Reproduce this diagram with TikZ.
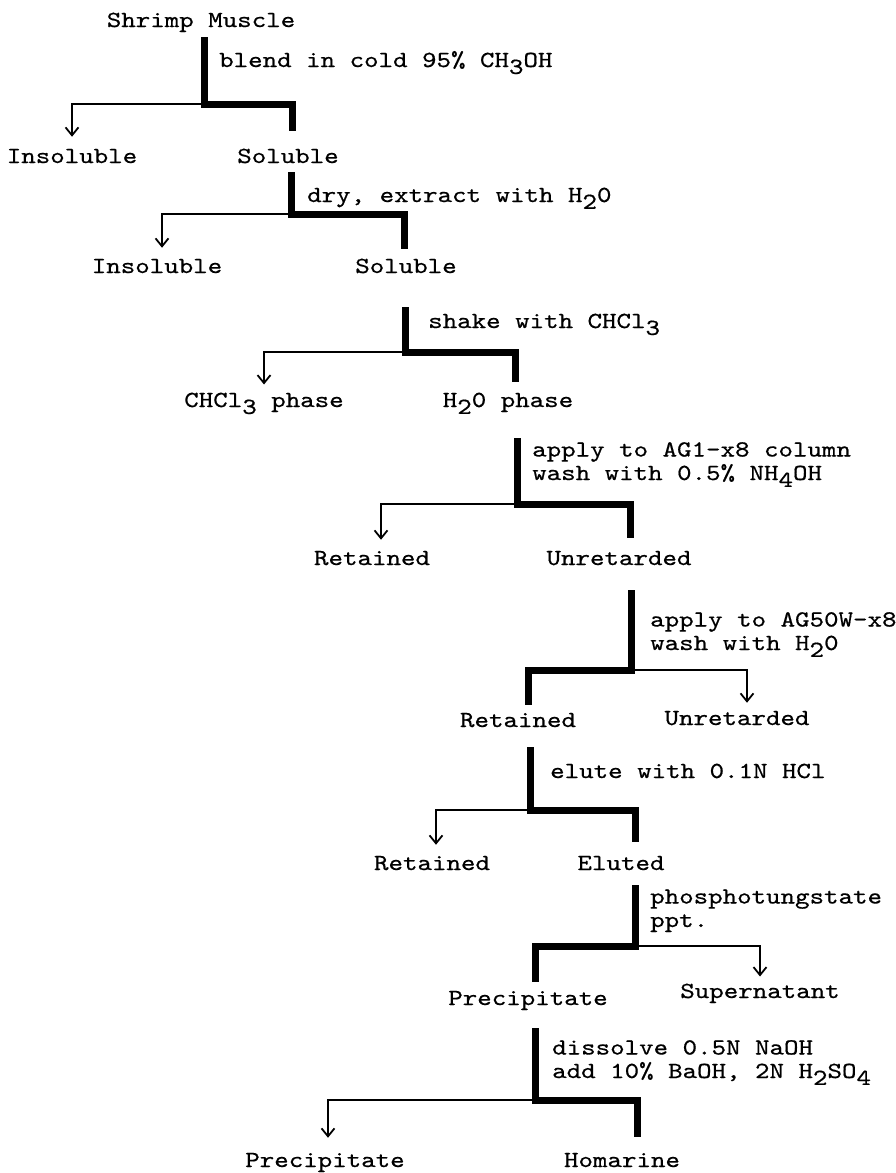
\documentclass[tikz,border=0pt]{standalone}
\usepackage{fontspec}
\newfontfamily\typer{lmmono10-regular.otf}[FakeStretch=1.2,FakeBold=0.6]
\usetikzlibrary{arrows.meta}
\newcommand{\lowr}[1]{\raisebox{-0.3em}{#1}}
\pgfmathsetmacro{\stemWidth}{7}
\pgfmathsetmacro{\sideWidth}{1.8}

\begin{document}
\begin{tikzpicture}[x=1pt,y=-1pt,
    every node/.style={inner sep=0pt,
        font=\typer\fontsize{23}{23.5}\selectfont},
    fraction/.style={anchor=base},
    treatment/.style={anchor=base west, align=left},
    keep/.style={line width=\stemWidth pt},
    drop/.style={line width=\sideWidth pt,
        -{Straight Barb[length=8pt,width=13pt]}}]

\useasboundingbox (0,0) rectangle (896,1173);

% fractions
\node[fraction](shrimp) at (201,27){Shrimp Muscle};
\node[fraction](insol1) at (72,163){Insoluble};
\node[fraction](sol1) at (288,163){Soluble};
\node[fraction](insol2) at (157,273){Insoluble};
\node[fraction](sol2) at (406,273){Soluble};
\node[fraction](chcl) at (264,407){CHCl\lowr{3} phase};
\node[fraction](water) at (508,407){H\lowr{2}0 phase};
\node[fraction](ret1) at (372,565){Retained};
\node[fraction](unret1) at (619,565){Unretarded};
\node[fraction](ret2) at (518,727){Retained};
\node[fraction](unret2) at (737,725){Unretarded};
\node[fraction](ret3) at (432,870){Retained};
\node[fraction](elut) at (621,870){Eluted};
\node[fraction](ppt1) at (528,1005){Precipitate};
\node[fraction](super) at (760,998){Supernatant};
\node[fraction](ppt2) at (325,1167){Precipitate};
\node[fraction](homarine) at (622,1167){Homarine};

% treatments (base = last line)
\node[treatment](blend) at (219,67){blend in cold 95\% CH\lowr{3}OH};
\node[treatment](dry) at (307,202){dry, extract with H\lowr{2}0};
\node[treatment](shake) at (428,328){shake with CHCl\lowr{3}};
\node[treatment](col1) at (532,480){apply to AG1-x8 column\\
    wash with 0.5\% NH\lowr{4}OH};
\node[treatment](col2) at (650,650){apply to AG50W-x8\\
    wash with H\lowr{2}0};
\node[treatment](elute) at (550,778){elute with 0.1N HCl};
\node[treatment](pta) at (650,927){phosphotungstate\\ppt.};
\node[treatment](diss) at (552,1078){dissolve 0.5N NaOH\\
    add 10\% BaOH, 2N H\lowr{2}SO\lowr{4}};

% junctions
\coordinate(j1) at (204,104);
\coordinate(j2) at (291,214);
\coordinate(j3) at (405,352);
\coordinate(j4) at (517,504);
\coordinate(j5) at (631,670);
\coordinate(j6) at (530,810);
\coordinate(j7) at (635,946);
\coordinate(j8) at (535,1100);

% step 1
\draw[drop,shorten >=12pt](j1) -| (insol1.north);
\draw[keep,shorten <=5pt,shorten >=17pt](shrimp.south -| j1) --
    (j1) -| ([xshift=4pt]sol1.north);

% step 2
\draw[drop,shorten >=11pt](j2) -| ([xshift=5pt]insol2.north);
\draw[keep,shorten <=9pt,shorten >=9pt](sol1.south -| j2) --
    (j2) -| ([xshift=-2pt]sol2.north);

% step 3
\draw[drop,shorten >=8pt](j3) -| (chcl.north);
\draw[keep,shorten <=34pt,shorten >=11pt](sol2.south -| j3) --
    (j3) -| ([xshift=7pt]water.north);

% step 4
\draw[drop,shorten >=11pt](j4) -| ([xshift=9pt]ret1.north);
\draw[keep,shorten <=24pt,shorten >=13pt](water.south -| j4) --
    (j4) -| ([xshift=11pt]unret1.north);

% step 5
\draw[drop,shorten >=8pt](j5) -| ([xshift=10pt]unret2.north);
\draw[keep,shorten <=25pt,shorten >=8pt](unret1.south -| j5) --
    (j5) -| ([xshift=10pt]ret2.north);

% step 6
\draw[drop,shorten >=11pt](j6) -| ([xshift=4pt]ret3.north);
\draw[keep,shorten <=20pt,shorten >=14pt](ret2.south -| j6) --
    (j6) -| ([xshift=14pt]elut.north);

% step 7
\draw[drop,shorten >=7pt](j7) -| (super.north);
\draw[keep,shorten <=15pt,shorten >=9pt](elut.south -| j7) --
    (j7) -| ([xshift=7pt]ppt1.north);

% step 8
\draw[drop,shorten >=15pt](j8) -| ([xshift=3pt]ppt2.north);
\draw[keep,shorten <=18pt,shorten >=16pt](ppt1.south -| j8) --
    (j8) -| ([xshift=15pt]homarine.north);

\end{tikzpicture}
\end{document}
